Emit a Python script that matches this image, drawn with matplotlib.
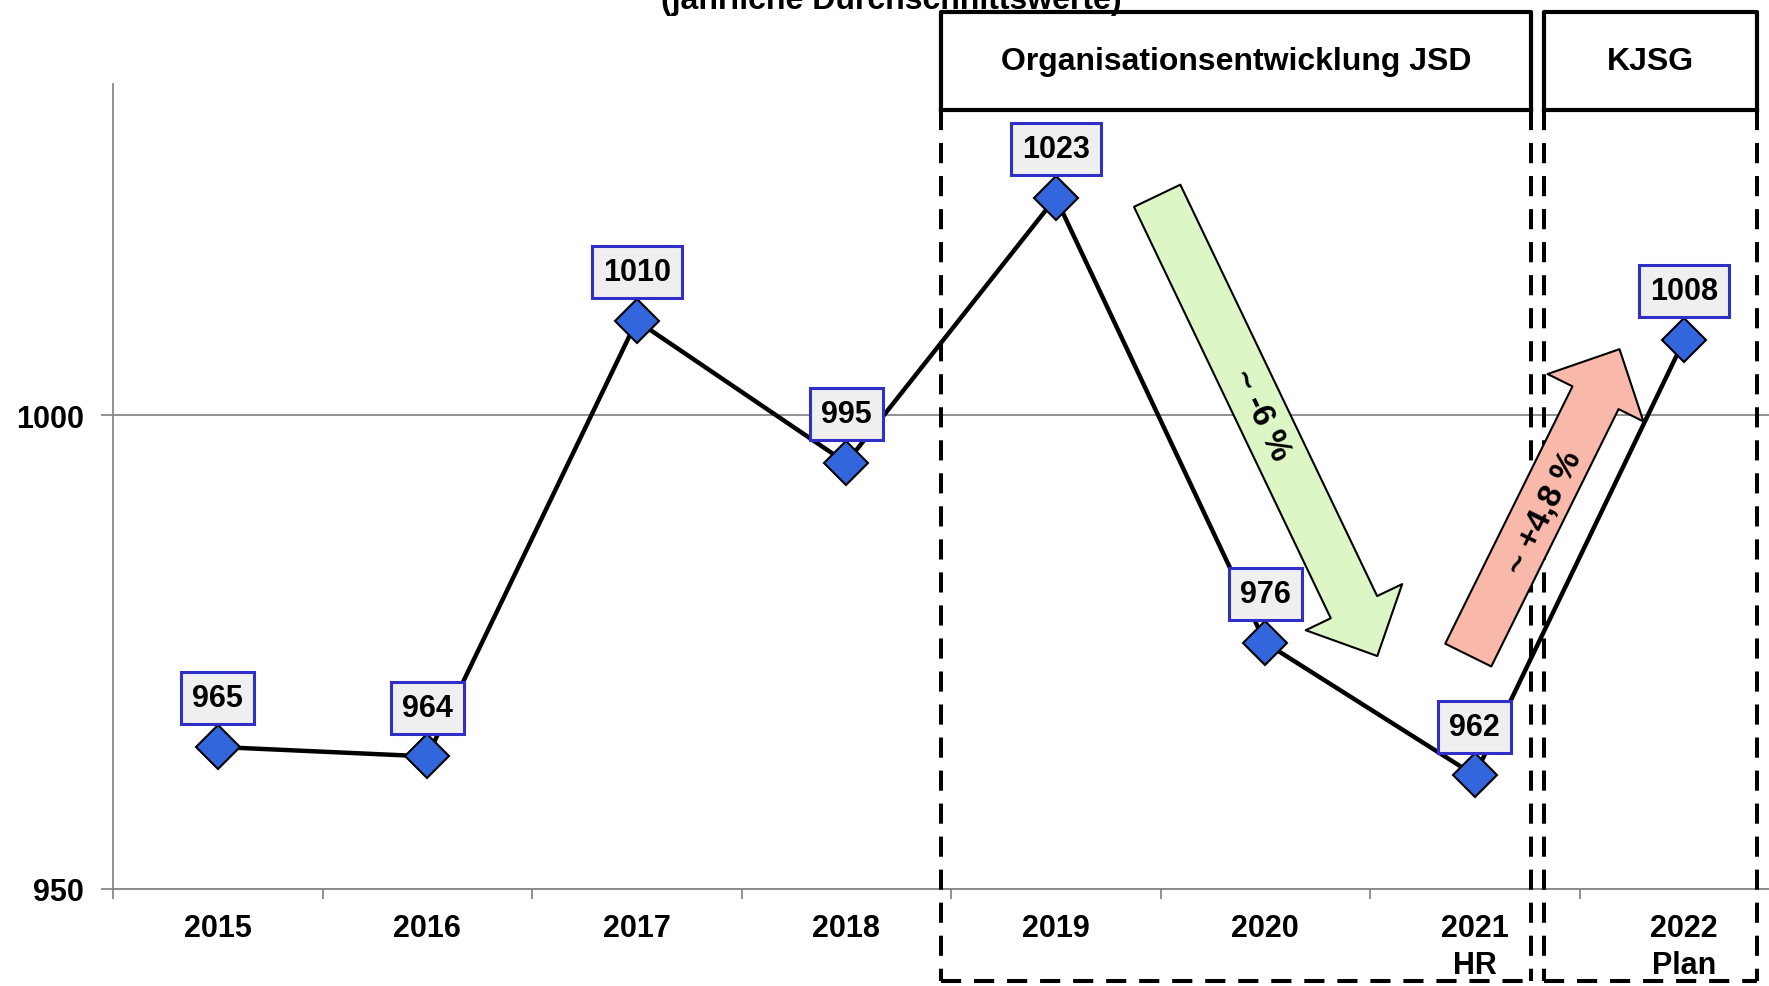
import matplotlib.pyplot as plt
from matplotlib.patches import FancyArrowPatch, ArrowStyle

plt.rcParams['font.family'] = ['Liberation Sans', 'DejaVu Sans']
plt.rcParams['font.weight'] = 'bold'

# ---- Data ----
years = ["2015", "2016", "2017", "2018", "2019", "2020", "2021\nHR", "2022\nPlan"]
values = [965, 964, 1010, 995, 1023, 976, 962, 1008]
x = list(range(len(years)))

W, H = 1769, 987
fig = plt.figure(figsize=(W / 100, H / 100), dpi=100)
ax = fig.add_axes([113 / W, 97 / H, 1676 / W, 805 / H])

ax.plot(x, values, color="black", lw=3.2, zorder=3)
ax.plot(x, values, linestyle="none", marker="D", markersize=22,
        markerfacecolor="#3366DD", markeredgecolor="black",
        markeredgewidth=1.5, zorder=4)

for xi, v in zip(x, values):
    ax.annotate(str(v), (xi, v), xytext=(0, 35), textcoords="offset points",
                ha="center", va="center", fontsize=22, fontweight="bold",
                zorder=6,
                bbox=dict(boxstyle="square,pad=0.36", facecolor="#EFEFEF",
                          edgecolor="#3030C8", linewidth=2.2))

ax.set_xlim(-0.5, 7.5)
ax.set_ylim(950, 1035)
ax.set_yticks([950, 1000])
ax.set_yticklabels(["950", "1000"], fontsize=22, fontweight="bold")
ax.set_xticks(x)
ax.set_xticklabels(years, fontsize=22, fontweight="bold", linespacing=1.3)
ax.set_xticks([i + 0.5 for i in range(-1, 8)], minor=True)
ax.tick_params(axis="x", which="major", length=0, pad=17)
ax.tick_params(axis="x", which="minor", length=7, color="#888888", width=1.3)
ax.tick_params(axis="y", length=9, color="#888888", width=1.3, pad=12)
ax.yaxis.grid(True, color="#888888", lw=1.3)
ax.set_axisbelow(True)
for s in ["top", "right"]:
    ax.spines[s].set_visible(False)
for s in ["left", "bottom"]:
    ax.spines[s].set_color("#888888")
    ax.spines[s].set_linewidth(1.3)

# ---- Phase boxes (header solid, lower part dashed) ----
y_top, y_head, y_bot = 1042.6, 1032.3, 940.3
boxes = [(3.453, 6.27, "Organisationsentwicklung JSD"), (6.33, 7.345, "KJSG")]
for x0, x1, name in boxes:
    solid = dict(color="black", lw=3, clip_on=False, zorder=7)
    dash = dict(color="black", lw=2.9, clip_on=False, zorder=7,
                dashes=(5, 3.2))
    ax.plot([x0, x0, x1, x1], [y_head, y_top, y_top, y_head], **solid)
    ax.plot([x0, x1], [y_head, y_head], **solid)
    ax.plot([x0, x0], [y_head, y_bot], **dash)
    ax.plot([x1, x1], [y_head, y_bot], **dash)
    ax.plot([x0, x1], [y_bot, y_bot], **dash)
    ax.text((x0 + x1) / 2, (y_top + y_head) / 2, name, ha="center",
            va="center", fontsize=23, fontweight="bold", zorder=8)

# ---- Trend arrows ----
arrows = [
    ((4.484, 1023.2), (5.535, 974.6), "#DDF6C6", "~ -6 %", (4.98, 1000.1), -64.5),
    ((5.969, 974.7), (6.691, 1007.0), "#F8B9AA", "~ +4,8 %", (6.335, 989.8), 63.7),
]
for tail, tip, col, txt, tpos, rot in arrows:
    style = ArrowStyle.Simple(head_length=39, head_width=77, tail_width=37)
    ax.add_patch(FancyArrowPatch(tail, tip, arrowstyle=style, mutation_scale=1,
                                 shrinkA=0, shrinkB=0, facecolor=col,
                                 edgecolor="black", lw=1.5, zorder=9))
    ax.text(tpos[0], tpos[1], txt, rotation=rot, rotation_mode="anchor",
            ha="center", va="center", fontsize=24, fontweight="bold",
            zorder=10)

# title (mostly cut off at the top edge)
fig.text(891 / W, 1 - 9 / H, "(jährliche Durchschnittswerte)", ha="center",
         va="baseline", fontsize=23, fontweight="bold")

fig.savefig("out.png", dpi=100)
